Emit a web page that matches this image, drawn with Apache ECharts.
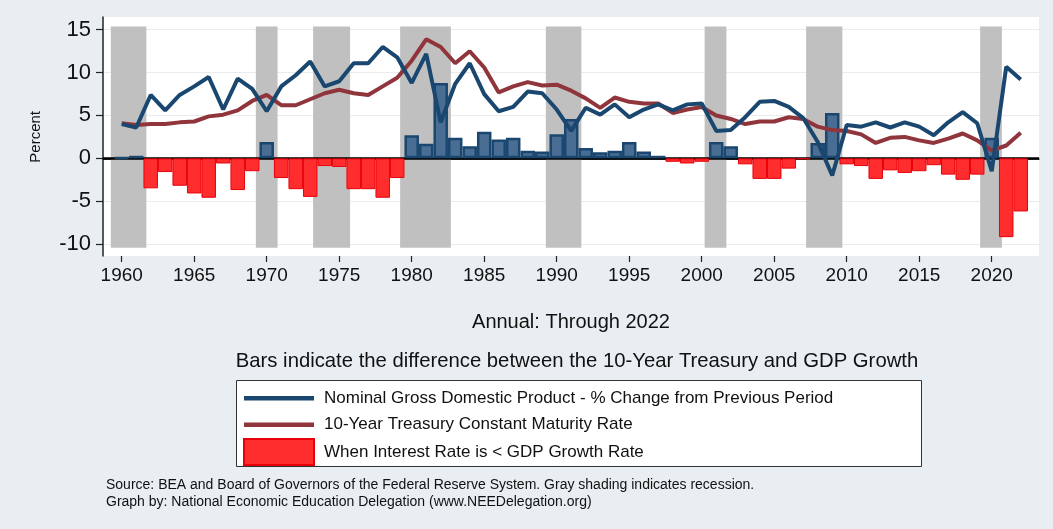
<!DOCTYPE html>
<html>
<head>
<meta charset="utf-8">
<title>10-Year Treasury vs Nominal GDP Growth</title>
<script src="https://cdn.jsdelivr.net/npm/echarts@6/dist/echarts.min.js"></script>
<style>
  html, body { margin: 0; padding: 0; background: #e8eef2; }
  #chart { width: 1053px; height: 529px; }
</style>
</head>
<body>
<div id="chart"></div>
<script>
// annual data
var years = [1960, 1961, 1962, 1963, 1964, 1965, 1966, 1967, 1968, 1969,
             1970, 1971, 1972, 1973, 1974, 1975, 1976, 1977, 1978, 1979,
             1980, 1981, 1982, 1983, 1984, 1985, 1986, 1987, 1988, 1989,
             1990, 1991, 1992, 1993, 1994, 1995, 1996, 1997, 1998, 1999,
             2000, 2001, 2002, 2003, 2004, 2005, 2006, 2007, 2008, 2009,
             2010, 2011, 2012, 2013, 2014, 2015, 2016, 2017, 2018, 2019,
             2020, 2021, 2022];

// Nominal GDP - % change from previous period
var gdpGrowth = [4.0, 3.6, 7.4, 5.6, 7.4, 8.4, 9.5, 5.7, 9.3, 8.1,
                 5.5, 8.4, 9.7, 11.3, 8.4, 9.0, 11.1, 11.1, 13.0, 11.8,
                 8.8, 12.2, 4.2, 8.7, 11.1, 7.5, 5.5, 6.0, 7.8, 7.6,
                 5.7, 3.2, 5.9, 5.1, 6.3, 4.8, 5.7, 6.3, 5.6, 6.3,
                 6.4, 3.2, 3.3, 4.8, 6.6, 6.7, 6.0, 4.7, 1.9, -2.0,
                 3.9, 3.7, 4.2, 3.6, 4.2, 3.7, 2.7, 4.2, 5.4, 4.1,
                 -1.5, 10.7, 9.2];

// 10-Year Treasury constant maturity rate
var treasury10y = [4.1, 3.9, 4.0, 4.0, 4.2, 4.3, 4.9, 5.1, 5.6, 6.7,
                   7.4, 6.2, 6.2, 6.9, 7.6, 8.0, 7.6, 7.4, 8.4, 9.4,
                   11.4, 13.9, 13.0, 11.1, 12.5, 10.6, 7.7, 8.4, 8.9, 8.5,
                   8.6, 7.9, 7.0, 5.9, 7.1, 6.6, 6.4, 6.4, 5.3, 5.7,
                   6.0, 5.0, 4.6, 4.0, 4.3, 4.3, 4.8, 4.6, 3.7, 3.3,
                   3.2, 2.8, 1.8, 2.4, 2.5, 2.1, 1.8, 2.3, 2.9, 2.1,
                   0.9, 1.5, 3.0];

// bars: 10-Year Treasury minus GDP growth
var spread = [0.1, 0.3, -3.5, -1.6, -3.2, -4.1, -4.6, -0.6, -3.7, -1.5,
              1.9, -2.3, -3.6, -4.5, -0.9, -1.0, -3.6, -3.6, -4.6, -2.3,
              2.7, 1.7, 8.8, 2.4, 1.4, 3.1, 2.2, 2.4, 0.9, 0.8,
              2.8, 4.6, 1.2, 0.7, 0.9, 1.9, 0.8, 0.3, -0.4, -0.6,
              -0.4, 1.9, 1.4, -0.7, -2.4, -2.4, -1.2, -0.1, 1.8, 5.3,
              -0.7, -0.9, -2.4, -1.4, -1.7, -1.5, -0.8, -1.9, -2.5, -1.9,
              2.4, -9.2, -6.2];

// gray recession shading, start / end in fractional years
var recessions = [[1959.25, 1961.7], [1969.25, 1970.75], [1973.2, 1975.75],
                  [1979.2, 1982.7], [1989.25, 1991.7], [2000.2, 2001.7],
                  [2007.2, 2009.7], [2019.2, 2020.7]];

var yTickMin = -10, yTickMax = 15, yTickStep = 5;
var xTickMin = 1960, xTickMax = 2020, xTickStep = 5;

var gdpName = 'Nominal Gross Domestic Product - % Change from Previous Period';
var tsyName = '10-Year Treasury Constant Maturity Rate';
var barName = 'When Interest Rate is < GDP Growth Rate';

var font = "'Liberation Sans', Arial, Helvetica, sans-serif";

function pairs(values) {
  return years.map(function(y, i) { return [y, values[i]]; });
}
var posBars = [], negBars = [];
years.forEach(function(y, i) {
  if (spread[i] >= 0) posBars.push([y, spread[i]]);
  else negBars.push([y, spread[i]]);
});

// thin bar used as legend key for the two lines
var lineKey = 'path://M0,0H70V4.5H0Z';

var chart = echarts.init(document.getElementById('chart'));
var option = {
  backgroundColor: '#e8eef2',
  animation: false,
  textStyle: { fontFamily: font },
  title: [
    {
      text: 'Bars indicate the difference between the 10-Year Treasury and GDP Growth',
      left: 572, top: 346, textAlign: 'center',
      textStyle: { fontFamily: font, fontSize: 20.3, fontWeight: 'normal', color: '#111' }
    },
    {
      text: 'Source: BEA and Board of Governors of the Federal Reserve System. Gray shading indicates recession.\nGraph by: National Economic Education Delegation (www.NEEDelegation.org)',
      left: 101, top: 472,
      textStyle: { fontFamily: font, fontSize: 14, fontWeight: 'normal', color: '#111', lineHeight: 16.5 }
    }
  ],
  graphic: [{
    type: 'rect', left: 236, top: 380, z: 0,
    shape: { width: 685, height: 86 },
    style: { fill: '#fff', stroke: '#333', lineWidth: 1 }
  }],
  legend: {
    left: 236, top: 385, orient: 'vertical',
    padding: [0, 0, 0, 7],
    itemWidth: 70, itemHeight: 26, itemGap: 0,
    symbolKeepAspect: true,
    textStyle: { fontFamily: font, fontSize: 17, color: '#111', lineHeight: 26.5, padding: [0, 0, 0, 5] },
    data: [
      { name: gdpName, icon: lineKey, itemStyle: { color: '#1a476f', borderWidth: 0 } },
      { name: tsyName, icon: lineKey, itemStyle: { color: '#90353b', borderWidth: 0 } },
      { name: barName, icon: 'rect' }
    ]
  },
  grid: [
    { left: 103, right: 14, top: 17, bottom: 273, show: true, backgroundColor: '#fff', borderWidth: 0 },
    { left: 103, right: 14, top: 29.7, bottom: 285 },
    { left: 121.7, right: 61.3, top: 17, bottom: 273 }
  ],
  xAxis: [
    {
      gridIndex: 0, type: 'value', min: 1958.71, max: 2023.26,
      name: 'Annual: Through 2022', nameLocation: 'middle', nameGap: 56,
      nameTextStyle: { fontFamily: font, fontSize: 20, color: '#111' },
      axisLine: { show: true, lineStyle: { color: '#222', width: 1.5 } },
      axisTick: { show: false }, axisLabel: { show: false }, splitLine: { show: false }
    },
    { gridIndex: 1, type: 'value', show: false },
    {
      gridIndex: 2, type: 'value', min: xTickMin, max: xTickMax, interval: xTickStep,
      axisLine: { show: false },
      axisTick: { show: true, length: 6, lineStyle: { color: '#222', width: 1.2 } },
      axisLabel: {
        fontFamily: font, fontSize: 19, color: '#111', margin: 10,
        formatter: function(v) { return String(v); }
      },
      splitLine: { show: false }
    }
  ],
  yAxis: [
    {
      gridIndex: 0, type: 'value', min: -11.4, max: 16.5,
      axisLine: { show: true, lineStyle: { color: '#222', width: 1.5 } },
      axisTick: { show: false }, axisLabel: { show: false }, splitLine: { show: false }
    },
    {
      gridIndex: 1, type: 'value', min: yTickMin, max: yTickMax, interval: yTickStep,
      name: 'Percent', nameLocation: 'middle', nameGap: 60,
      nameTextStyle: { fontFamily: font, fontSize: 15, color: '#111' },
      axisLine: { show: false },
      axisTick: { show: true, length: 7, lineStyle: { color: '#222', width: 1.2 } },
      axisLabel: { fontFamily: font, fontSize: 22, color: '#111', margin: 12 },
      splitLine: { show: true, lineStyle: { color: '#ebebeb', width: 1 } }
    },
    { gridIndex: 2, type: 'value', show: false }
  ],
  series: [
    {
      name: 'spread+', type: 'bar', xAxisIndex: 0, yAxisIndex: 0,
      data: posBars, barWidth: 14.5, barGap: '-100%', z: 2,
      itemStyle: { color: '#4a6d94', borderColor: '#1a476f', borderWidth: 2.5 },
      markArea: {
        silent: true, z: 1,
        itemStyle: { color: '#c0c0c0' },
        data: recessions.map(function(r) {
          return [{ xAxis: r[0], yAxis: -10.43 }, { xAxis: r[1], yAxis: 15.4 }];
        })
      },
      markLine: {
        silent: true, symbol: 'none', z: 1.5,
        label: { show: false },
        lineStyle: { color: '#000', width: 2.5, type: 'solid' },
        data: [{ yAxis: 0 }]
      }
    },
    {
      name: barName, type: 'bar', xAxisIndex: 0, yAxisIndex: 0,
      data: negBars, barWidth: 14.5, barGap: '-100%', z: 2,
      itemStyle: { color: '#ff2d2d', borderColor: '#e8000b', borderWidth: 1 }
    },
    {
      name: tsyName, type: 'line', xAxisIndex: 0, yAxisIndex: 0,
      data: pairs(treasury10y), symbol: 'none', z: 3,
      itemStyle: { color: '#90353b' },
      lineStyle: { color: '#90353b', width: 4 }
    },
    {
      name: gdpName, type: 'line', xAxisIndex: 0, yAxisIndex: 0,
      data: pairs(gdpGrowth), symbol: 'none', z: 4,
      itemStyle: { color: '#1a476f' },
      lineStyle: { color: '#1a476f', width: 4 }
    }
  ]
};
chart.setOption(option);
</script>
</body>
</html>
